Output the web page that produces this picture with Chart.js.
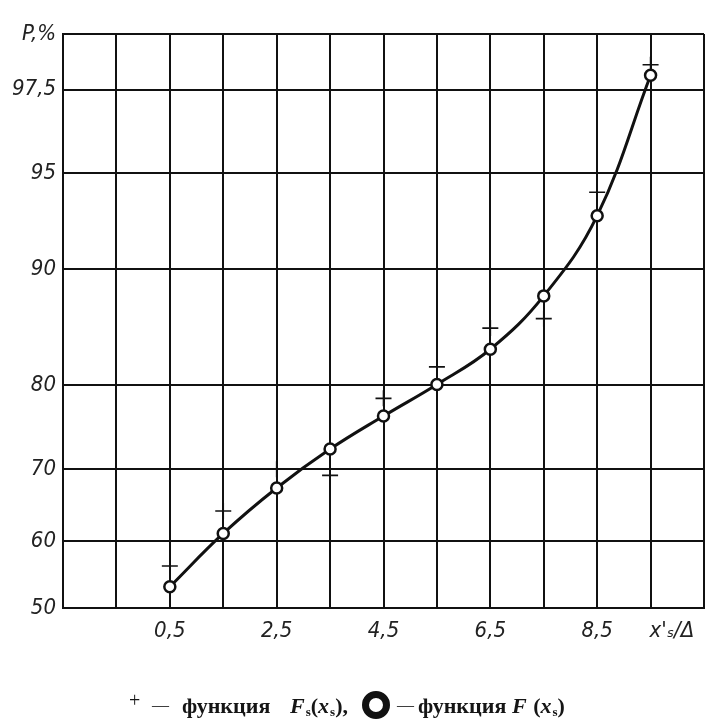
<!DOCTYPE html>
<html>
<head>
<meta charset="utf-8">
<script src="https://cdn.jsdelivr.net/npm/chart.js@4/dist/chart.umd.min.js"></script>
<style>
  body { margin: 0; background: #fff; width: 705px; height: 719px; overflow: hidden; position: relative; }
  #chart { position: absolute; left: 0; top: 0; }
  #legend { position: absolute; left: 0; top: 0; width: 705px; height: 719px; pointer-events: none;
            font: bold 22px "Liberation Serif", serif; color: #151515; white-space: nowrap; }
  #legend span { position: absolute; top: 691px; line-height: 30px; }
  #legend .plus { font-weight: normal; font-size: 20px; top: 685px; }
  #legend .dash { font-weight: normal; font-size: 17px; top: 690px; }
  #legend i { letter-spacing: 1px; }
  #legend sub { font-size: 13px; vertical-align: -3px; }
  #legend .ring { top: 691px; width: 14px; height: 14px; border: 7px solid #111; border-radius: 50%; line-height: 0; }
</style>
</head>
<body>
<canvas id="chart" width="705" height="660"></canvas>
<div id="legend">
  <span class="plus" style="left:129px">+</span>
  <span class="dash" style="left:152px">—</span>
  <span style="left:182px">функция</span>
  <span style="left:290px"><i>F</i><sub>s</sub>(<i>x</i><sub>s</sub>),</span>
  <span class="ring" style="left:362px"></span>
  <span class="dash" style="left:397px">—</span>
  <span style="left:418px">функция</span>
  <span style="left:512px"><i>F</i> (<i>x</i><sub>s</sub>)</span>
</div>
<script>
// x positions of the points (x's / Δ)
const xPos = [0.5, 1.5, 2.5, 3.5, 4.5, 5.5, 6.5, 7.5, 8.5, 9.5];
// "+" : function F_s(x_s), P %
const pFs = [56.3, 64.3, 70.0, 69.2, 78.6, 81.9, 85.5, 86.3, 94.2, 98.0];
// circles : function F(x_s), P %
const pF = [53.2, 61.1, 67.5, 72.6, 76.6, 80.1, 83.6, 88.1, 93.1, 97.8];

// probability paper ticks
const yTickP = [50, 60, 70, 80, 90, 95, 97.5];
const yTickLabels = ['50', '60', '70', '80', '90', '95', '97,5'];
const yTopP = 98.5;
const yTopLabel = 'P,%';

const xGrid = [-1.5, -0.5, 0.5, 1.5, 2.5, 3.5, 4.5, 5.5, 6.5, 7.5, 8.5, 9.5, 10.5];
const xLabelAt = [0.5, 2.5, 4.5, 6.5, 8.5, 9.9];
const xLabelText = ['0,5', '2,5', '4,5', '6,5', '8,5', "x'ₛ/Δ"];

// inverse normal CDF (Acklam) -> probability paper axis
function probit(pct) {
  const p = pct / 100;
  const a = [-3.969683028665376e+01, 2.209460984245205e+02, -2.759285104469687e+02, 1.383577518672690e+02, -3.066479806614716e+01, 2.506628277459239e+00];
  const b = [-5.447609879822406e+01, 1.615858368580409e+02, -1.556989798598866e+02, 6.680131188771972e+01, -1.328068155288572e+01];
  const c = [-7.784894002430293e-03, -3.223964580411365e-01, -2.400758277161838e+00, -2.549732539343734e+00, 4.374664141464968e+00, 2.938163982698783e+00];
  const d = [7.784695709041462e-03, 3.224671290700398e-01, 2.445134137142996e+00, 3.754408661907416e+00];
  const pl = 0.02425;
  if (p < pl) {
    const q = Math.sqrt(-2 * Math.log(p));
    return (((((c[0]*q+c[1])*q+c[2])*q+c[3])*q+c[4])*q+c[5]) / ((((d[0]*q+d[1])*q+d[2])*q+d[3])*q+1);
  }
  if (p <= 1 - pl) {
    const q = p - 0.5, r = q * q;
    return (((((a[0]*r+a[1])*r+a[2])*r+a[3])*r+a[4])*r+a[5])*q / (((((b[0]*r+b[1])*r+b[2])*r+b[3])*r+b[4])*r+1);
  }
  const q = Math.sqrt(-2 * Math.log(1 - p));
  return -(((((c[0]*q+c[1])*q+c[2])*q+c[3])*q+c[4])*q+c[5]) / ((((d[0]*q+d[1])*q+d[2])*q+d[3])*q+1);
}

const ink = '#111';
const tickFont = { family: '"DejaVu Sans Condensed", "DejaVu Sans", sans-serif', size: 22, style: 'italic' };

new Chart(document.getElementById('chart').getContext('2d'), {
  type: 'line',
  data: {
    datasets: [
      {
        label: 'F(x_s)',
        data: xPos.map((x, i) => ({ x: x, y: probit(pF[i]) })),
        borderColor: ink,
        borderWidth: 3,
        tension: 0.4,
        pointRadius: 5.5,
        pointBorderWidth: 2.5,
        pointBackgroundColor: '#fff',
        pointBorderColor: ink
      },
      {
        label: 'F_s(x_s)',
        data: xPos.map((x, i) => ({ x: x, y: probit(pFs[i]) })),
        showLine: false,
        pointStyle: 'cross',
        pointRadius: 8,
        pointBorderWidth: 1.6,
        pointBorderColor: ink
      }
    ]
  },
  options: {
    responsive: false,
    animation: false,
    devicePixelRatio: 1,
    layout: { autoPadding: false, padding: { top: 34, right: 1, left: 0, bottom: 0 } },
    plugins: { legend: { display: false }, tooltip: { enabled: false } },
    scales: {
      x: {
        type: 'linear',
        min: -1.5,
        max: 10.5,
        afterBuildTicks: s => {
          s.ticks = xGrid.concat([9.9]).sort((a, b) => a - b).map(v => ({ value: v }));
        },
        afterFit: s => { s.height = 52; s.paddingLeft = 0; s.paddingRight = 0; },
        grid: {
          color: c => (c.tick && xGrid.indexOf(c.tick.value) < 0) ? 'rgba(0,0,0,0)' : ink,
          lineWidth: 2,
          drawTicks: true,
          tickLength: 10,
          tickColor: 'rgba(0,0,0,0)'
        },
        border: { color: ink, width: 2 },
        ticks: {
          padding: 0, autoSkip: false, maxRotation: 0, color: '#222', font: tickFont,
          callback: v => { const i = xLabelAt.indexOf(v); return i < 0 ? '' : xLabelText[i]; }
        }
      },
      y: {
        type: 'linear',
        min: 0,
        max: probit(yTopP),
        afterBuildTicks: s => { s.ticks = yTickP.concat([yTopP]).map(p => ({ value: probit(p) })); },
        afterFit: s => { s.width = 63; },
        grid: { color: ink, lineWidth: 2, drawTicks: false },
        border: { color: ink, width: 2 },
        ticks: {
          padding: 7, color: '#222', font: tickFont,
          callback: (v, i) => yTickLabels.concat([yTopLabel])[i]
        }
      }
    }
  }
});
</script>
</body>
</html>
